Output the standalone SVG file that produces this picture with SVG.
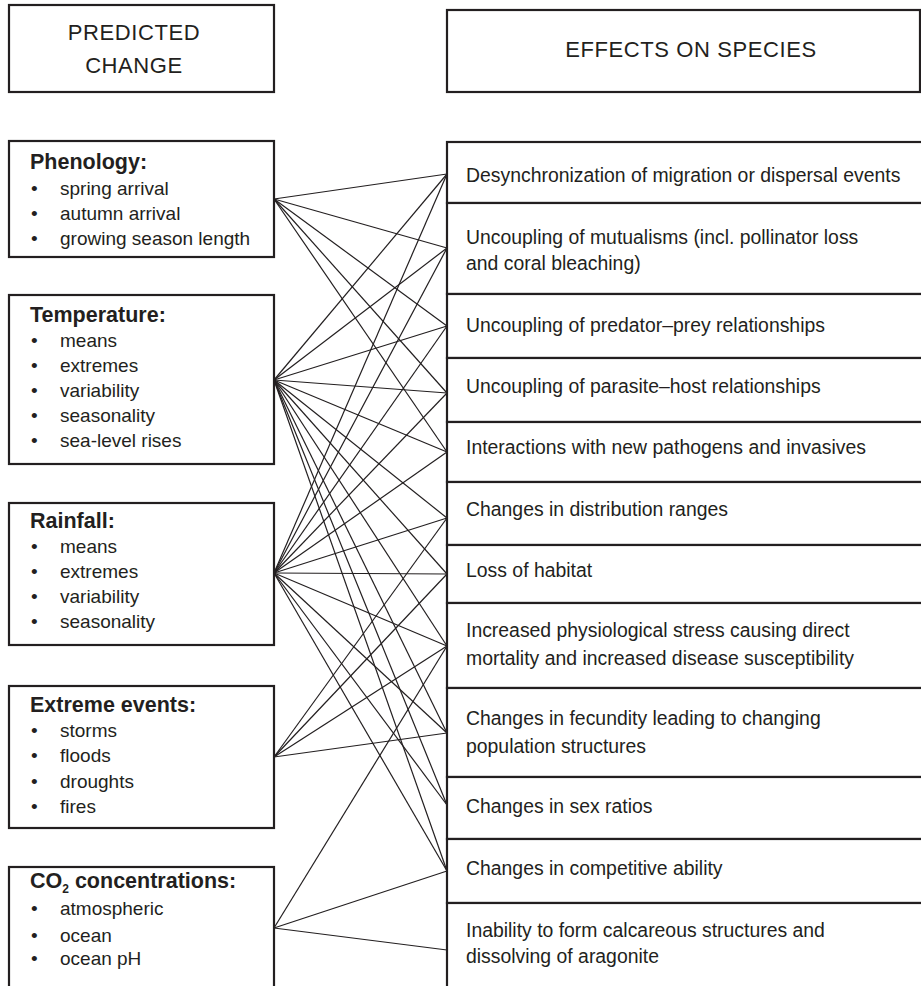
<svg xmlns="http://www.w3.org/2000/svg" width="921" height="986" viewBox="0 0 921 986">
<style>
.box{fill:#fff;stroke:#231f20;stroke-width:2.2}
.hd{font-family:"Liberation Sans",Arial,sans-serif;font-size:22px;letter-spacing:0.6px;fill:#231f20;text-anchor:middle}
.ttl{font-family:"Liberation Sans",Arial,sans-serif;font-size:21.5px;font-weight:bold;fill:#231f20}
.it{font-family:"Liberation Sans",Arial,sans-serif;font-size:19px;fill:#231f20}
.ef{font-family:"Liberation Sans",Arial,sans-serif;font-size:19.4px;fill:#231f20}
.cn line{stroke:#231f20;stroke-width:1.2}
</style>
<rect width="921" height="986" fill="#fff"/>
<g id="hdr-predicted"><rect class="box" x="9" y="5" width="265" height="87"/><text class="hd" x="134" y="40">PREDICTED</text><text class="hd" x="134" y="73">CHANGE</text></g>
<g id="hdr-effects"><rect class="box" x="447" y="10" width="473" height="82"/><text class="hd" x="691" y="57">EFFECTS ON SPECIES</text></g>
<g class="cn" id="connectors">
<line x1="274" y1="199" x2="447" y2="174"/><line x1="274" y1="199" x2="447" y2="248"/><line x1="274" y1="199" x2="447" y2="326"/><line x1="274" y1="199" x2="447" y2="393"/><line x1="274" y1="199" x2="447" y2="452"/>
<line x1="274" y1="380" x2="447" y2="174"/><line x1="274" y1="380" x2="447" y2="248"/><line x1="274" y1="380" x2="447" y2="326"/><line x1="274" y1="380" x2="447" y2="393"/><line x1="274" y1="380" x2="447" y2="452"/><line x1="274" y1="380" x2="447" y2="518"/><line x1="274" y1="380" x2="447" y2="574"/><line x1="274" y1="380" x2="447" y2="646"/><line x1="274" y1="380" x2="447" y2="733"/><line x1="274" y1="380" x2="447" y2="805"/><line x1="274" y1="380" x2="447" y2="871"/>
<line x1="274" y1="573" x2="447" y2="174"/><line x1="274" y1="573" x2="447" y2="248"/><line x1="274" y1="573" x2="447" y2="326"/><line x1="274" y1="573" x2="447" y2="393"/><line x1="274" y1="573" x2="447" y2="452"/><line x1="274" y1="573" x2="447" y2="518"/><line x1="274" y1="573" x2="447" y2="574"/><line x1="274" y1="573" x2="447" y2="646"/><line x1="274" y1="573" x2="447" y2="733"/><line x1="274" y1="573" x2="447" y2="805"/><line x1="274" y1="573" x2="447" y2="871"/>
<line x1="274" y1="757" x2="447" y2="518"/><line x1="274" y1="757" x2="447" y2="574"/><line x1="274" y1="757" x2="447" y2="646"/><line x1="274" y1="757" x2="447" y2="733"/>
<line x1="274" y1="928" x2="447" y2="646"/><line x1="274" y1="928" x2="447" y2="871"/><line x1="274" y1="928" x2="447" y2="950"/>
</g>
<g id="phenology"><rect class="box" x="9" y="141" width="265" height="116"/><text class="ttl" x="30" y="169">Phenology:</text>
<text class="it" x="31" y="195">•</text><text class="it" x="60" y="195">spring arrival</text>
<text class="it" x="31" y="220">•</text><text class="it" x="60" y="220">autumn arrival</text>
<text class="it" x="31" y="245">•</text><text class="it" x="60" y="245">growing season length</text></g>
<g id="temperature"><rect class="box" x="9" y="295" width="265" height="169"/><text class="ttl" x="30" y="322">Temperature:</text>
<text class="it" x="31" y="347">•</text><text class="it" x="60" y="347">means</text>
<text class="it" x="31" y="372">•</text><text class="it" x="60" y="372">extremes</text>
<text class="it" x="31" y="397">•</text><text class="it" x="60" y="397">variability</text>
<text class="it" x="31" y="422">•</text><text class="it" x="60" y="422">seasonality</text>
<text class="it" x="31" y="447">•</text><text class="it" x="60" y="447">sea-level rises</text></g>
<g id="rainfall"><rect class="box" x="9" y="503" width="265" height="142"/><text class="ttl" x="30" y="528">Rainfall:</text>
<text class="it" x="31" y="553">•</text><text class="it" x="60" y="553">means</text>
<text class="it" x="31" y="578">•</text><text class="it" x="60" y="578">extremes</text>
<text class="it" x="31" y="603">•</text><text class="it" x="60" y="603">variability</text>
<text class="it" x="31" y="628">•</text><text class="it" x="60" y="628">seasonality</text></g>
<g id="extreme"><rect class="box" x="9" y="686" width="265" height="142"/><text class="ttl" x="30" y="712">Extreme events:</text>
<text class="it" x="31" y="737">•</text><text class="it" x="60" y="737">storms</text>
<text class="it" x="31" y="762">•</text><text class="it" x="60" y="762">floods</text>
<text class="it" x="31" y="788">•</text><text class="it" x="60" y="788">droughts</text>
<text class="it" x="31" y="813">•</text><text class="it" x="60" y="813">fires</text></g>
<g id="co2"><rect class="box" x="9" y="867" width="265" height="130"/><text class="ttl" x="30" y="888">CO<tspan font-size="12" dy="5">2</tspan><tspan dy="-5"> concentrations:</tspan></text>
<text class="it" x="31" y="915">•</text><text class="it" x="60" y="915">atmospheric</text>
<text class="it" x="31" y="942">•</text><text class="it" x="60" y="942">ocean</text>
<text class="it" x="31" y="965">•</text><text class="it" x="60" y="965">ocean pH</text></g>
<g id="e1"><rect class="box" x="447" y="142" width="480" height="61"/><text class="ef" x="466" y="182">Desynchronization of migration or dispersal events</text></g>
<g id="e2"><rect class="box" x="447" y="203" width="480" height="91"/><text class="ef" x="466" y="244">Uncoupling of mutualisms (incl. pollinator loss</text><text class="ef" x="466" y="270">and coral bleaching)</text></g>
<g id="e3"><rect class="box" x="447" y="294" width="480" height="64"/><text class="ef" x="466" y="332">Uncoupling of predator–prey relationships</text></g>
<g id="e4"><rect class="box" x="447" y="358" width="480" height="64"/><text class="ef" x="466" y="393">Uncoupling of parasite–host relationships</text></g>
<g id="e5"><rect class="box" x="447" y="422" width="480" height="60"/><text class="ef" x="466" y="454">Interactions with new pathogens and invasives</text></g>
<g id="e6"><rect class="box" x="447" y="482" width="480" height="63"/><text class="ef" x="466" y="516">Changes in distribution ranges</text></g>
<g id="e7"><rect class="box" x="447" y="545" width="480" height="58"/><text class="ef" x="466" y="577">Loss of habitat</text></g>
<g id="e8"><rect class="box" x="447" y="603" width="480" height="85"/><text class="ef" x="466" y="637">Increased physiological stress causing direct</text><text class="ef" x="466" y="665">mortality and increased disease susceptibility</text></g>
<g id="e9"><rect class="box" x="447" y="688" width="480" height="89"/><text class="ef" x="466" y="725">Changes in fecundity leading to changing</text><text class="ef" x="466" y="753">population structures</text></g>
<g id="e10"><rect class="box" x="447" y="777" width="480" height="62"/><text class="ef" x="466" y="813">Changes in sex ratios</text></g>
<g id="e11"><rect class="box" x="447" y="839" width="480" height="64"/><text class="ef" x="466" y="875">Changes in competitive ability</text></g>
<g id="e12"><rect class="box" x="447" y="903" width="480" height="95"/><text class="ef" x="466" y="937">Inability to form calcareous structures and</text><text class="ef" x="466" y="963">dissolving of aragonite</text></g>
</svg>
